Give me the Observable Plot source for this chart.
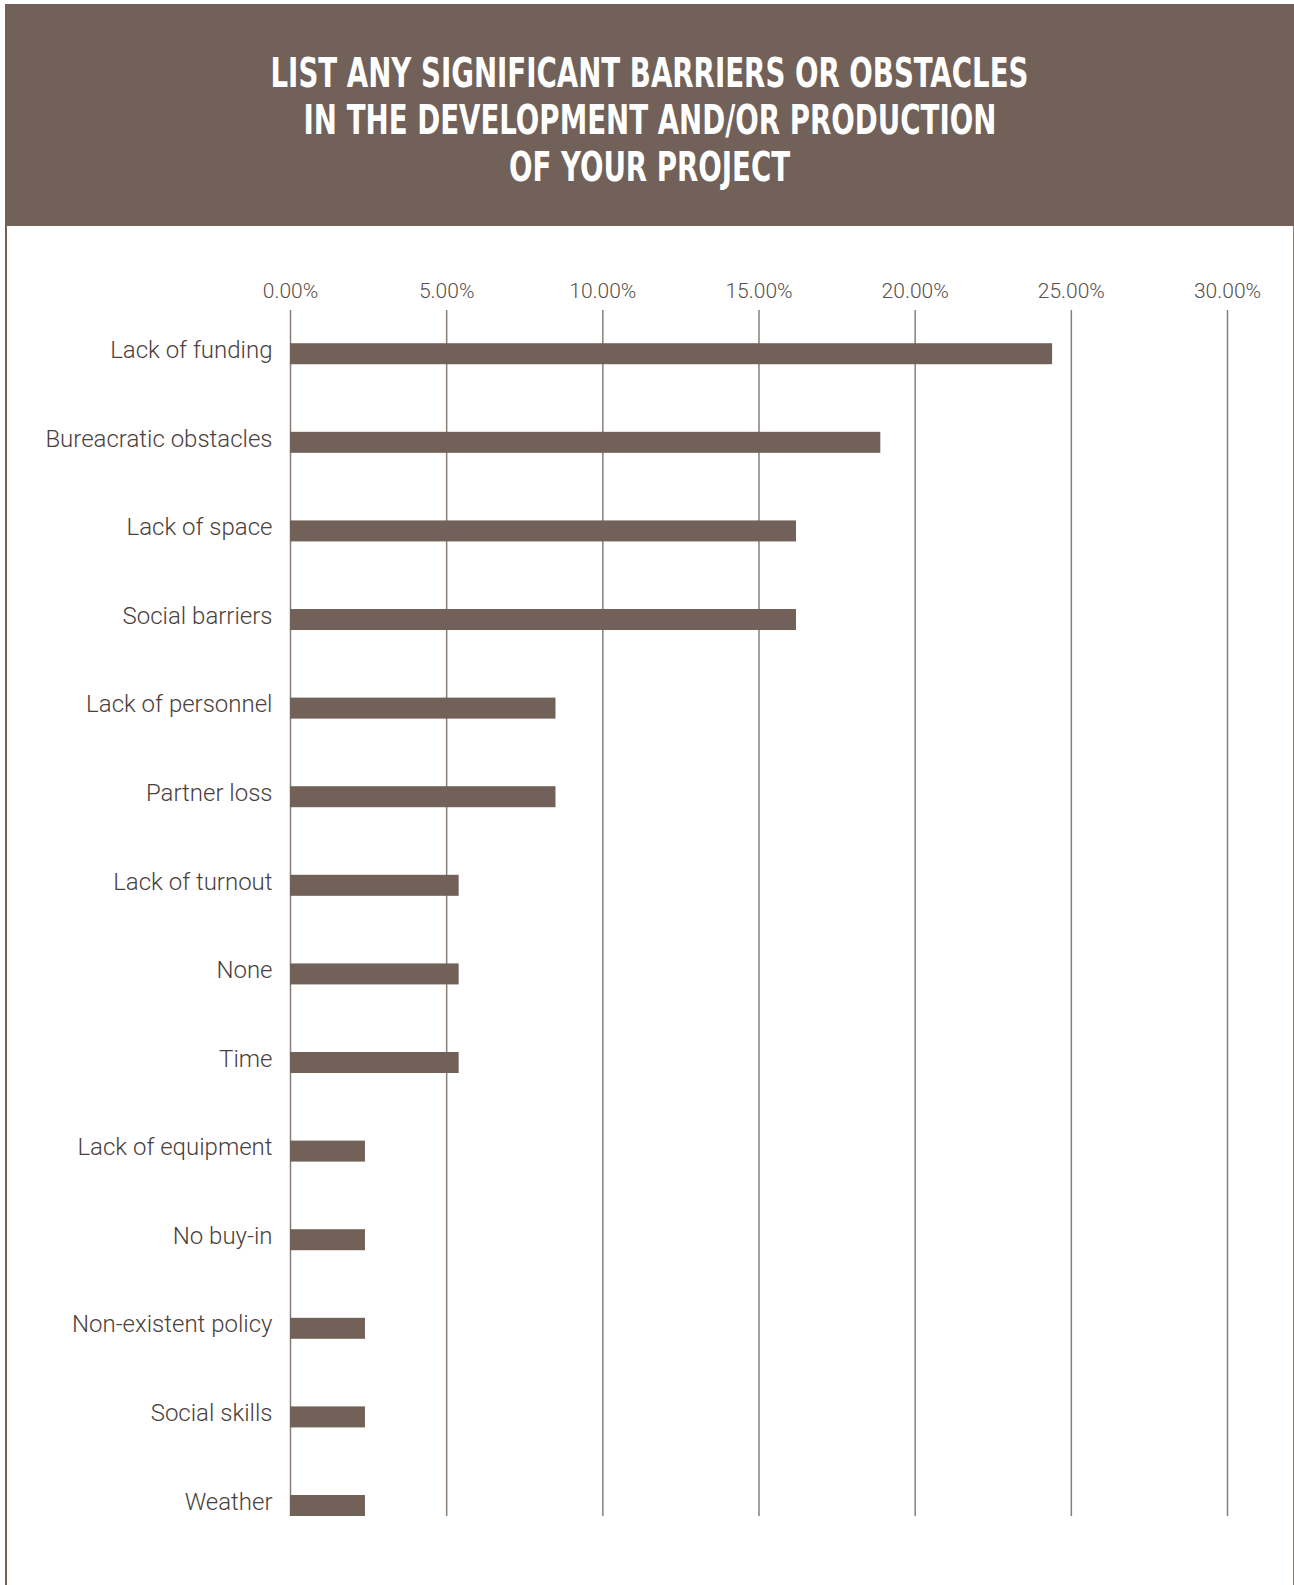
<!DOCTYPE html>
<html>
<head>
<meta charset="utf-8">
<script src="https://cdn.jsdelivr.net/npm/d3@7"></script>
<script src="https://cdn.jsdelivr.net/npm/@observablehq/plot@0.6"></script>
<style>
  html, body { margin: 0; padding: 0; background: #ffffff; }
  body { width: 1294px; height: 1585px; position: relative; overflow: hidden; }
  #frame {
    position: absolute; left: 5px; top: 4px; width: 1286px; height: 1581px;
    border-left: 2px solid #716159; border-right: 1px solid #8a7e79;
  }
  #header {
    position: absolute; left: 5px; top: 4px; width: 1289px; height: 222px;
    background: #716159; color: #ffffff;
    font-family: "DejaVu Sans Condensed", "DejaVu Sans", sans-serif;
    font-weight: 700; font-size: 41px; line-height: 47px; text-align: center;
    box-sizing: border-box; padding-top: 46px;
  }
  #header .line { display: block; white-space: nowrap; }
  #header .line span { display: inline-block; transform-origin: 50% 50%; }
  #chart { position: absolute; left: 0; top: 226px; }
</style>
</head>
<body>
<div id="frame"></div>
<div id="header">
  <div class="line"><span>LIST ANY SIGNIFICANT BARRIERS OR OBSTACLES</span></div>
  <div class="line"><span>IN THE DEVELOPMENT AND/OR PRODUCTION</span></div>
  <div class="line"><span>OF YOUR PROJECT</span></div>
</div>
<div id="chart"></div>
<script>
const categories = [
  "Lack of funding", "Bureacratic obstacles", "Lack of space", "Social barriers",
  "Lack of personnel", "Partner loss", "Lack of turnout", "None", "Time",
  "Lack of equipment", "No buy-in", "Non-existent policy", "Social skills", "Weather"
];
const percents = [24.4, 18.9, 16.2, 16.2, 8.5, 8.5, 5.4, 5.4, 5.4, 2.4, 2.4, 2.4, 2.4, 2.4];
const tickValues = [0, 5, 10, 15, 20, 25, 30];

// condense the title to the reference's width
const spans = document.querySelectorAll("#header .line span");
const w0 = spans[0].getBoundingClientRect().width;
const k = 758 / w0;
spans.forEach(s => { s.style.transform = `scaleX(${k})`; });

const rows = categories.map((c, i) => ({category: c, value: percents[i]}));

const brown = "#716159";
const chart = Plot.plot({
  width: 1294,
  height: 1359,
  marginLeft: 290,
  marginRight: 67,
  marginTop: 84,
  marginBottom: 69,
  style: {fontFamily: "Roboto, 'Open Sans', sans-serif", fontWeight: 300, background: "transparent"},
  x: {domain: [0, 30], axis: null, label: null},
  y: {domain: categories, paddingInner: 0.763, paddingOuter: 0.1875, align: 1, round: false, axis: null, label: null},
  marks: [
    Plot.ruleX(tickValues, {stroke: "#8a7e79", strokeWidth: 1.5}),
    Plot.barX(rows, {x: "value", y: "category", fill: brown}),
    Plot.axisX({
      anchor: "top", ticks: tickValues, tickSize: 0, tickPadding: 13, label: null,
      tickFormat: d => d.toFixed(2) + "%", fontSize: 21, fill: "#5a504c", fontWeight: 300
    }),
    Plot.axisY({
      anchor: "left", tickSize: 0, tickPadding: 18, fontSize: 24, fill: "#4a403c", label: null,
      fontWeight: 300, dy: -4
    })
  ]
});
document.getElementById("chart").appendChild(chart);
</script>
</body>
</html>
